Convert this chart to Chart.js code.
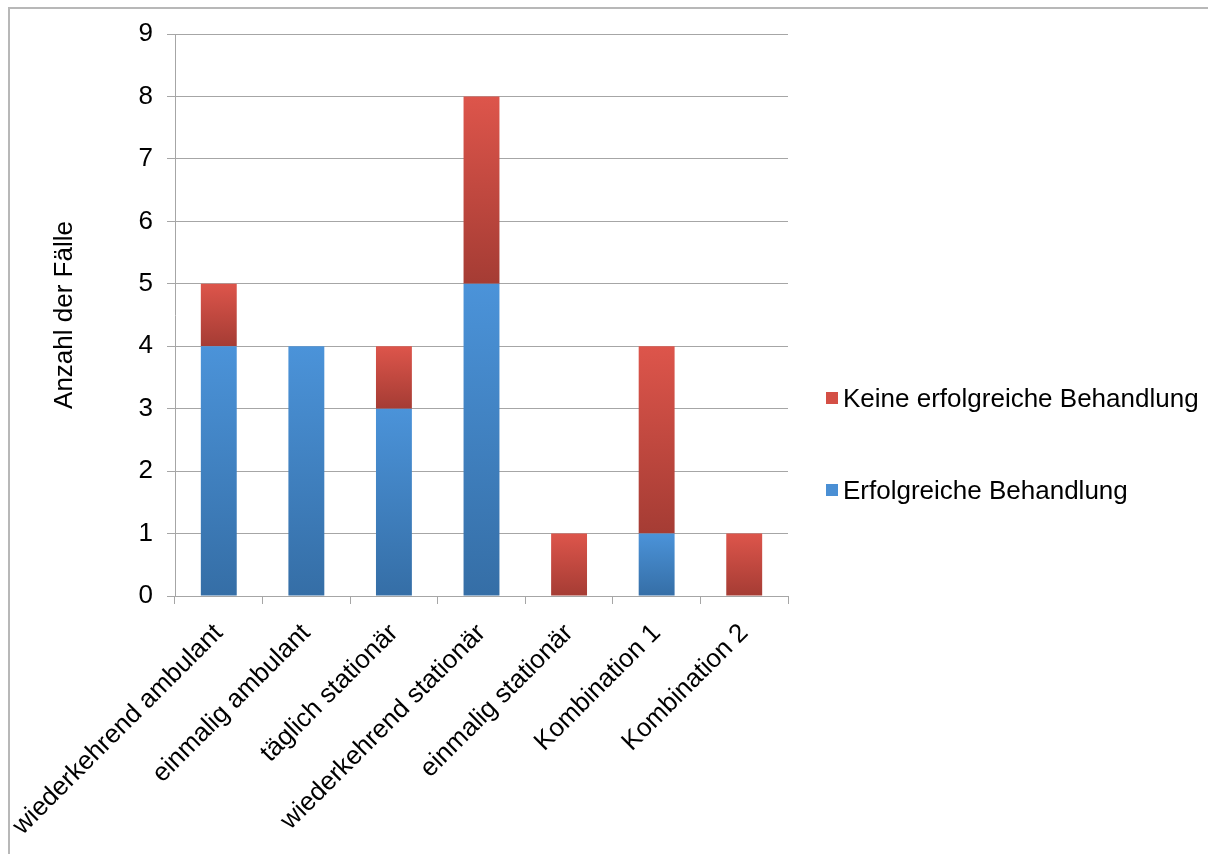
<!DOCTYPE html>
<html>
<head>
<meta charset="utf-8">
<script src="https://cdn.jsdelivr.net/npm/chart.js@4/dist/chart.umd.min.js"></script>
<style>
  body { margin: 0; background: #fff; font-family: "Liberation Sans", Arial, sans-serif; }
  #wrap { position: relative; width: 1208px; height: 854px; overflow: hidden; }
  #frame { position: absolute; left: 8px; top: 7px; width: 1400px; height: 1000px; border: 2px solid #b8b8b8; box-sizing: border-box; }
  #myChart { position: absolute; left: 0; top: 0; }
  #legend { position: absolute; left: 826px; top: 383px; font-size: 26px; line-height: 30px; color: #000; }
  .item { position: absolute; white-space: nowrap; display: flex; align-items: center; }
  .box { width: 12px; height: 12px; margin-right: 5px; }
</style>
</head>
<body>
<div id="wrap">
  <div id="frame"></div>
  <canvas id="myChart" width="1208" height="854"></canvas>
  <div id="legend"></div>
</div>
<script>
'use strict';
//data
let categories = ['wiederkehrend ambulant', 'einmalig ambulant', 'täglich stationär', 'wiederkehrend stationär', 'einmalig stationär', 'Kombination 1', 'Kombination 2'];
let successValues = [4, 4, 3, 5, 0, 1, 0];
let failValues = [1, 0, 1, 3, 1, 3, 1];
let yTicks = [0, 1, 2, 3, 4, 5, 6, 7, 8, 9];
let seriesNames = ['Erfolgreiche Behandlung', 'Keine erfolgreiche Behandlung'];

//gradient colours, light at top of segment, dark at bottom
let blueTop = '#4b93d9';
let blueBottom = '#356ea6';
let redTop = '#dd554b';
let redBottom = '#a53c34';

function segmentGradient(context, top, bottom, base){
  let chart = context.chart;
  let y = chart.scales.y;
  if(!y || context.dataIndex === undefined) return top;
  let i = context.dataIndex;
  let from = base ? base[i] : 0;
  let to = from + context.dataset.data[i];
  let yTop = y.getPixelForValue(to);
  let yBot = y.getPixelForValue(from);
  if(!isFinite(yTop) || !isFinite(yBot) || yTop === yBot) return top;
  let g = chart.ctx.createLinearGradient(0, yTop, 0, yBot);
  g.addColorStop(0, top);
  g.addColorStop(1, bottom);
  return g;
}

const ctx = document.getElementById('myChart');
const font = { family: '"Liberation Sans", Arial, sans-serif', size: 26 };

let chart = new Chart(ctx, {
  type: 'bar',
  data: {
    labels: categories,
    datasets: [{
      label: seriesNames[0],
      data: successValues,
      backgroundColor: (c) => segmentGradient(c, blueTop, blueBottom, null),
      legendColor: '#4a8fd4',
      borderWidth: 0,
      categoryPercentage: 1,
      barPercentage: 0.41
    },
    {
      label: seriesNames[1],
      data: failValues,
      backgroundColor: (c) => segmentGradient(c, redTop, redBottom, successValues),
      legendColor: '#d44f45',
      borderWidth: 0,
      categoryPercentage: 1,
      barPercentage: 0.41
    }]
  },
  options: {
    responsive: false,
    animation: false,
    layout: { padding: { top: 34, right: 420, left: 0, bottom: 0 } },
    plugins: {
      legend: { display: false },
      tooltip: { enabled: false }
    },
    scales: {
      x: {
        stacked: true,
        afterFit: (s) => { s.height = 258; s.paddingLeft = 0; s.paddingRight = 0; },
        border: { color: '#a6a6a6', width: 1 },
        grid: { drawOnChartArea: false, color: '#a6a6a6', tickLength: 8, offset: true },
        ticks: { color: '#000', font: font, minRotation: 45, maxRotation: 45, padding: 14 }
      },
      y: {
        stacked: true,
        min: 0,
        max: 9,
        afterFit: (s) => { s.width = 175; },
        afterBuildTicks: (s) => { s.ticks = yTicks.map(v => ({ value: v })); },
        border: { color: '#a6a6a6', width: 1 },
        grid: { color: '#a6a6a6', tickLength: 8 },
        ticks: { color: '#000', font: font, padding: 14 },
        title: {
          display: true,
          text: 'Anzahl der Fälle',
          color: '#000',
          font: { family: font.family, size: 26 },
          padding: { top: 49, bottom: 0 }
        }
      }
    }
  }
});

//legend, reversed order like the original
let legendEl = document.getElementById('legend');
let order = chart.data.datasets.slice().reverse();
for(let i = 0; i < order.length; i++){
  let item = document.createElement('div');
  item.className = 'item';
  item.style.top = (i * 92) + 'px';
  let box = document.createElement('span');
  box.className = 'box';
  box.style.background = order[i].legendColor;
  let txt = document.createElement('span');
  txt.textContent = order[i].label;
  item.appendChild(box);
  item.appendChild(txt);
  legendEl.appendChild(item);
}
</script>
</body>
</html>
